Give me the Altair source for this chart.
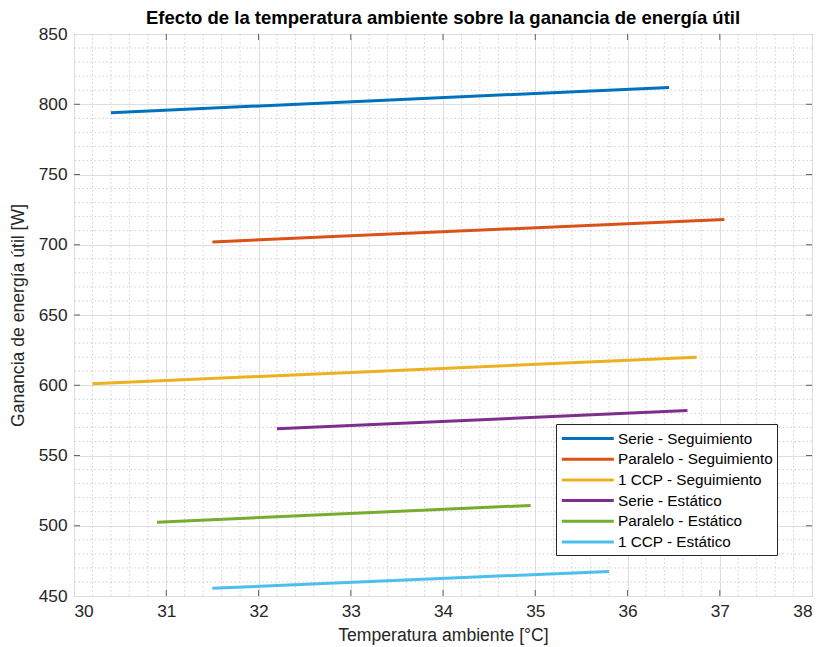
import altair as alt
import pandas as pd

# ---- data ----
series = ["Serie - Seguimiento", "Paralelo - Seguimiento", "1 CCP - Seguimiento",
          "Serie - Estático", "Paralelo - Estático", "1 CCP - Estático"]
x_start = [30.4, 31.5, 30.2, 32.2, 30.9, 31.5]
x_end = [36.45, 37.05, 36.75, 36.65, 34.95, 35.8]
y_start = [794, 702, 601, 569, 502.5, 455.5]
y_end = [812, 718, 620, 582, 514.5, 467.5]
colors = ["#0072BD", "#D95319", "#EDB120", "#7E2F8E", "#77AC30", "#4DBEEE"]

x_ticks = [30, 31, 32, 33, 34, 35, 36, 37, 38]
y_ticks = [450, 500, 550, 600, 650, 700, 750, 800, 850]
x_minor = [30 + 0.2 * i for i in range(41) if i % 5 != 0]
y_minor = [450 + 10 * i for i in range(41) if i % 5 != 0]

rows = []
for s, xa, xb, ya, yb in zip(series, x_start, x_end, y_start, y_end):
    rows.append({"serie": s, "T": xa, "Q": ya})
    rows.append({"serie": s, "T": xb, "Q": yb})
df = pd.DataFrame(rows)

W, H = 738, 562
FONT = "Liberation Sans"
AX = "#262626"

xs = alt.Scale(domain=[30, 38], nice=False, zero=False)
ys = alt.Scale(domain=[450, 850], nice=False, zero=False)
x_axis = alt.Axis(values=x_ticks, grid=True, ticks=False, labelPadding=6,
                  titlePadding=7)
y_axis = alt.Axis(values=y_ticks, grid=True, ticks=False, labelPadding=7,
                  titlePadding=11)
XT = "Temperatura ambiente [°C]"
YT = "Ganancia de energía útil [W]"

xminor = alt.Chart(pd.DataFrame({"v": x_minor})).mark_rule(
    color="#c4c4c4", strokeWidth=0.8, strokeDash=[1.5, 2.5]
).encode(x=alt.X("v:Q", scale=xs, axis=x_axis, title=XT))
yminor = alt.Chart(pd.DataFrame({"v": y_minor})).mark_rule(
    color="#c4c4c4", strokeWidth=0.8, strokeDash=[1.5, 2.5]
).encode(y=alt.Y("v:Q", scale=ys, axis=y_axis, title=YT))

lines = alt.Chart(df).mark_line(strokeWidth=3).encode(
    x=alt.X("T:Q", scale=xs, title=XT, axis=x_axis),
    y=alt.Y("Q:Q", scale=ys, title=YT, axis=y_axis),
    color=alt.Color("serie:N", sort=series,
                    scale=alt.Scale(domain=series, range=colors),
                    legend=alt.Legend(title=None, orient="none", legendX=482, legendY=390,
                                      symbolType="M-1,0H5", symbolStrokeWidth=3,
                                      symbolSize=300, labelFontSize=15.3, labelFont=FONT,
                                      labelColor="#000000", fillColor="white",
                                      strokeColor="#262626", padding=4, rowPadding=1.7,
                                      labelOffset=37, labelLimit=300)),
    detail="serie:N",
)

tick_len = 6
xt_bottom = alt.Chart(pd.DataFrame({"v": x_ticks[1:-1]})).mark_tick(
    color=AX, thickness=1, size=tick_len * 2, clip=True
).encode(x=alt.X("v:Q", scale=xs, axis=x_axis, title=XT), y=alt.value(H))
xt_top = alt.Chart(pd.DataFrame({"v": x_ticks[1:-1]})).mark_tick(
    color=AX, thickness=1, size=tick_len * 2, clip=True
).encode(x=alt.X("v:Q", scale=xs, axis=x_axis, title=XT), y=alt.value(0))
yt_left = alt.Chart(pd.DataFrame({"v": y_ticks[1:-1]})).mark_tick(
    color=AX, thickness=1, size=tick_len * 2, clip=True
).encode(y=alt.Y("v:Q", scale=ys, axis=y_axis, title=YT), x=alt.value(0))
yt_right = alt.Chart(pd.DataFrame({"v": y_ticks[1:-1]})).mark_tick(
    color=AX, thickness=1, size=tick_len * 2, clip=True
).encode(y=alt.Y("v:Q", scale=ys, axis=y_axis, title=YT), x=alt.value(W))

chart = alt.layer(xminor, yminor, lines, xt_bottom, xt_top, yt_left, yt_right).properties(
    width=W, height=H,
    background="white",
    title=alt.Title("Efecto de la temperatura ambiente sobre la ganancia de energía útil",
                    fontSize=18.5, font=FONT, fontWeight="bold", color="#000000",
                    anchor="middle", offset=-2),
    padding={"left": 74, "top": 34, "right": 7, "bottom": 51},
    autosize=alt.AutoSizeParams(type="none"),
).configure_view(
    stroke=AX, strokeWidth=1
).configure_axis(
    domain=False, gridColor="#dedede", gridWidth=1,
    labelFont=FONT, labelFontSize=17.3, labelColor=AX,
    titleFont=FONT, titleFontSize=17.6, titleColor=AX, titleFontWeight="normal",
)

chart.save("out.html", embed_options={"renderer": "svg", "actions": False})
